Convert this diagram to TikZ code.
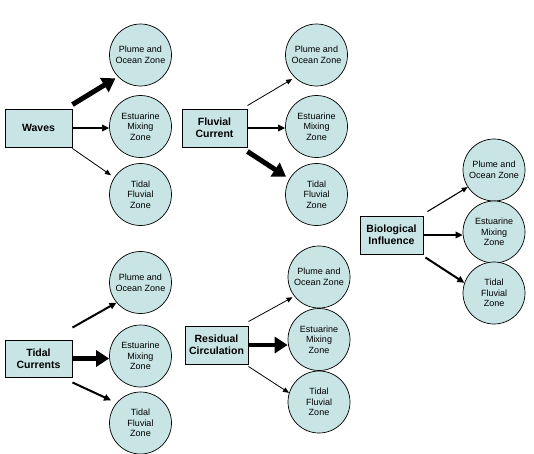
\documentclass[tikz,border=0pt]{standalone}
\usepackage{fontspec}
\setmainfont{Liberation Sans}
\usetikzlibrary{arrows.meta}
\definecolor{zonefill}{RGB}{200,228,228}
\begin{document}
\begin{tikzpicture}[x=1pt,y=-1pt,
  factor/.style={draw=black,line width=0.9pt,fill=zonefill,rectangle,inner sep=0pt,
    align=center,font=\fontsize{10.5}{12}\selectfont\bfseries},
  zone/.style={draw=black,line width=0.7pt,fill=zonefill,circle,minimum size=62pt,inner sep=0pt,
    align=center,font=\fontsize{9}{10.7}\selectfont},
  thinarr/.style={draw=black,line width=0.8pt,-{Triangle[length=6pt,width=5pt]}},
  medarr/.style={draw=black,line width=2pt,-{Triangle[length=7pt,width=6.5pt]}},
  bigarr/.style={draw=black,line width=5pt,-{Triangle[length=13pt,width=16pt]}}]
\useasboundingbox (0,0) rectangle (534,453);
% Group 1: Waves
\node[factor,minimum width=67pt,minimum height=38pt] (w) at (38.5,128) {Waves};
\node[zone] (wp) at (140.5,55) {Plume and\\Ocean Zone};
\node[zone] (we) at (140.5,126.5) {Estuarine\\Mixing\\Zone};
\node[zone] (wt) at (140.5,194.5) {Tidal\\Fluvial\\Zone};
\draw[bigarr,shorten >=3pt] ([yshift=4pt]w.north east) -- (wp.224);
\draw[medarr] (w.east) -- (w.east -| we.west);
\draw[thinarr,shorten >=4pt] ([yshift=-1pt]w.south east) -- (wt.147);
% Group 2: Fluvial Current
\node[factor,minimum width=65pt,minimum height=38pt] (f) at (214.5,128) {Fluvial\\Current};
\node[zone] (fp) at (316.5,55) {Plume and\\Ocean Zone};
\node[zone] (fe) at (316.5,126.5) {Estuarine\\Mixing\\Zone};
\node[zone] (ft) at (316.5,194.5) {Tidal\\Fluvial\\Zone};
\draw[thinarr,shorten >=3pt] ([yshift=3pt]f.north east) -- (fp.226);
\draw[medarr] (f.east) -- (f.east -| fe.west);
\draw[bigarr,shorten >=4pt] ([yshift=-4pt]f.south east) -- (ft.150);
% Group 3: Biological Influence
\node[factor,minimum width=63pt,minimum height=38pt] (b) at (391.5,235) {Biological\\Influence};
\node[zone] (bp) at (494,170) {Plume and\\Ocean Zone};
\node[zone] (be) at (494,232) {Estuarine\\Mixing\\Zone};
\node[zone] (bt) at (494,293) {Tidal\\Fluvial\\Zone};
\draw[thinarr,line width=1.1pt] ([shift={(4pt,4pt)}]b.north east) -- (bp.213);
\draw[medarr] (b.east) -- (b.east -| be.west);
\draw[medarr] ([shift={(2pt,-3pt)}]b.south east) -- (bt.161);
% Group 4: Tidal Currents
\node[factor,minimum width=67pt,minimum height=37pt] (t) at (38.5,358.5) {Tidal\\Currents};
\node[zone] (tp) at (140.5,282.5) {Plume and\\Ocean Zone};
\node[zone] (te) at (140.5,356) {Estuarine\\Mixing\\Zone};
\node[zone] (tt) at (140.5,423) {Tidal\\Fluvial\\Zone};
\draw[medarr] ([yshift=12pt]t.north east) -- (tp.220);
\draw[bigarr] (t.east) -- (t.east -| te.west);
\draw[medarr,shorten >=6pt] ([yshift=-5pt]t.south east) -- (tt.140);
% Group 5: Residual Circulation
\node[factor,minimum width=63pt,minimum height=38pt] (r) at (216.5,345) {Residual\\Circulation};
\node[zone] (rp) at (319,277) {Plume and\\Ocean Zone};
\node[zone] (re) at (319,339.5) {Estuarine\\Mixing\\Zone};
\node[zone] (rt) at (319,402) {Tidal\\Fluvial\\Zone};
\draw[thinarr,shorten >=2pt] ([yshift=4pt]r.north east) -- (rp.218);
\draw[bigarr,line width=4.5pt] (r.east) -- (r.east -| re.west);
\draw[thinarr] ([yshift=-2pt]r.south east) -- (rt.163);
\end{tikzpicture}
\end{document}
